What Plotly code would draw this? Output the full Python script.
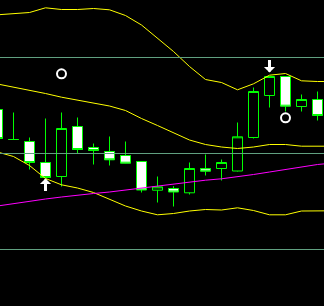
import plotly.graph_objects as go

# Candle index (bar number) and OHLC prices
bar = list(range(21))
open_ = [1.3191, 1.3161, 1.3159, 1.3138, 1.3124, 1.3174, 1.3153, 1.3149, 1.3145, 1.3139,
         1.31103, 1.3112, 1.31077, 1.3132, 1.3132, 1.31295, 1.3163, 1.3205, 1.3224, 1.3194, 1.3201]
high = [1.3196, 1.3188, 1.3163, 1.3182, 1.3188, 1.3183, 1.3157, 1.3164, 1.3159, 1.3139,
        1.3124, 1.31143, 1.3138, 1.3146, 1.3141, 1.3178, 1.3213, 1.3224, 1.3224, 1.3206, 1.3209]
low = [1.3157, 1.3161, 1.3131, 1.3123, 1.3114, 1.3147, 1.3136, 1.3135, 1.3137, 1.3108,
       1.3098, 1.3094, 1.3106, 1.3125, 1.3120, 1.3129, 1.3162, 1.3193, 1.3189, 1.3189, 1.3180]
close = [1.3162, 1.3161, 1.3138, 1.3123, 1.3172, 1.3151, 1.3150, 1.31407, 1.31373, 1.31105,
         1.31137, 1.31085, 1.3132, 1.31293, 1.3138, 1.31637, 1.3209, 1.3224, 1.31943, 1.3201, 1.3185]

# Indicator lines (one value per bar, plus the next bar beyond the right edge)
line_bar = list(range(22))
bb_upper = [1.32857, 1.32865, 1.3288, 1.32927, 1.3291, 1.3291, 1.3292, 1.32907, 1.3285, 1.32755,
            1.32625, 1.3249, 1.3234, 1.3221, 1.3218, 1.32107, 1.32167, 1.32253, 1.3227, 1.32197, 1.3219, 1.3219]
bb_middle = [1.32165, 1.32135, 1.32105, 1.3207, 1.32033, 1.32005, 1.3197, 1.31945, 1.319, 1.3182,
             1.3175, 1.3168, 1.31605, 1.3156, 1.31535, 1.3152, 1.31535, 1.3156, 1.3156, 1.31543, 1.31543, 1.31543]
bb_lower = [1.31485, 1.3144, 1.3135, 1.3122, 1.31157, 1.31125, 1.3108, 1.3101, 1.30945, 1.30895,
            1.30857, 1.3087, 1.30895, 1.3091, 1.30905, 1.30927, 1.309, 1.30857, 1.30857, 1.30895, 1.30897, 1.30897]
ma_slow = [1.30945, 1.3097, 1.3099, 1.31015, 1.31035, 1.31055, 1.3107, 1.31085, 1.31105, 1.31125,
           1.31145, 1.31165, 1.31185, 1.31203, 1.31217, 1.31235, 1.3126, 1.31285, 1.3131, 1.31335, 1.3136, 1.31375]

# Horizontal levels
levels = [1.3243, 1.3147, 1.3051]

# Signals
up_arrow_bar = [3]
up_arrow_price = [1.3122]
down_arrow_bar = [17]
down_arrow_price = [1.3228]
circle_bar = [4, 18]
circle_price = [1.32267, 1.31827]

GREEN = "#00ff00"
fig = go.Figure()

for ys in (bb_upper, bb_middle, bb_lower):
    fig.add_trace(go.Scatter(x=line_bar, y=ys, mode="lines",
                             line=dict(color="#ffff00", width=1, shape="linear"),
                             hoverinfo="skip", showlegend=False))
fig.add_trace(go.Scatter(x=line_bar, y=ma_slow, mode="lines",
                         line=dict(color="#ff00ff", width=1),
                         hoverinfo="skip", showlegend=False))

fig.add_trace(go.Candlestick(
    x=bar, open=open_, high=high, low=low, close=close,
    increasing=dict(line=dict(color=GREEN, width=1), fillcolor="#000000"),
    decreasing=dict(line=dict(color=GREEN, width=1), fillcolor="#ffffff"),
    whiskerwidth=0, showlegend=False))

for lv in levels:
    fig.add_hline(y=lv, line=dict(color="#60a080", width=1), layer="above")

fig.add_trace(go.Scatter(x=circle_bar, y=circle_price, mode="markers",
                         marker=dict(symbol="circle-open", size=9, color="#ffffff",
                                     line=dict(color="#ffffff", width=2)),
                         hoverinfo="skip", showlegend=False))

for xb, yp in zip(up_arrow_bar, up_arrow_price):
    fig.add_annotation(x=xb, y=yp, xref="x", yref="y", text="", showarrow=True,
                       ax=0, ay=14, arrowcolor="#ffffff", arrowwidth=3,
                       arrowhead=1, arrowsize=0.62, standoff=0)
for xb, yp in zip(down_arrow_bar, down_arrow_price):
    fig.add_annotation(x=xb, y=yp, xref="x", yref="y", text="", showarrow=True,
                       ax=0, ay=-14, arrowcolor="#ffffff", arrowwidth=3,
                       arrowhead=1, arrowsize=0.62, standoff=0)

fig.update_layout(
    width=324, height=306,
    margin=dict(l=0, r=0, t=0, b=0),
    paper_bgcolor="#000000", plot_bgcolor="#000000",
    boxgap=0.375, boxgroupgap=0,
    xaxis=dict(range=[0.15625, 20.40625], visible=False, showgrid=False,
               rangeslider=dict(visible=False), fixedrange=True),
    yaxis=dict(range=[1.29945, 1.33005], visible=False, showgrid=False, fixedrange=True),
    showlegend=False,
)

fig.write_html("out.html", config={"displayModeBar": False})
